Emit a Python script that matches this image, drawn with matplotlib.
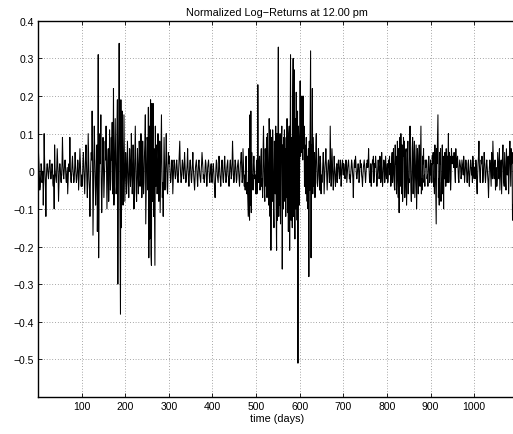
import numpy as np
import matplotlib
matplotlib.use("Agg")
import matplotlib.pyplot as plt

plt.rcParams['font.family'] = ['Liberation Sans', 'DejaVu Sans']

# log-returns in hundredths, one value per day (rows of 50 days)
r01 = [5,2,-1,-5,-4,-1,2,1,-3,-2, 0,-9,-2,10,3,-1,-4,-12,-2,1, 2,1,-1,-2,0,2,3,1,-2,-2, 0,2,1,-3,-4,-1,-10,7,1,-1, -2,-3,1,6,2,-1,-8,-3,1,2]
r02 = [1,-2,-3,-1,2,9,3,-1,-2,0, 2,3,1,-2,-3,-1,1,-6,-2,1, 2,0,9,1,-2,-3,-1,2,4,1, -1,-3,-2,1,5,2,-1,-3,-2,0, 3,2,-5,-2,1,6,2,-1,-4,-1]
r03 = [-4,-2,3,5,1,-3,-6,-1,4,7, 2,-3,-7,-2,10,4,-2,-5,-12,-3, 2,5,3,16,4,-17,-6,3,12,5, -2,-9,-4,3,7,-16,-3,31,-23,-5, 4,10,2,15,-3,-11,-4,3,9,2]
r04 = [-7,-3,2,8,3,12,2,-10,-4,3, 6,-8,-3,11,4,-5,-2,9,3,13, -6,-2,22,-9,-3,5,14,2,-6,-4, 10,19,-30,-4,12,34,8,-12,-38,19, -15,-4,16,5,-9,-3,15,4,-8,-2]
r05 = [5,2,-6,-3,8,3,-2,-7,-2,6, 3,-4,-1,10,2,-6,-2,7,3,-10, -4,5,12,3,-5,-8,-2,6,2,-6, -3,8,4,-4,-2,10,3,-7,-3,8, 2,-6,-3,4,7,15,-14,-5,3,9]
r06 = [8,-5,17,-23,12,-18,9,19,-22,-25, 18,-8,14,18,-12,6,-10,-25,12,-4, 7,2,-6,-3,10,3,-8,-2,8,-11, -3,6,15,2,-7,-3,-12,-2,9,2, -5,-2,3,10,2,-4,-6,-1,5,2]
r07 = [4,2,-1,-3,-2,1,3,2,-6,-2, 1,3,2,-1,-2,-1,2,3,1,-2, -3,-1,2,5,8,2,-1,-3,-2,1, 3,2,-1,-2,1,5,2,-1,-3,-2, 0,2,6,1,-2,-4,-1,2,3,1]
r08 = [-2,-3,-1,2,5,1,-1,-3,-5,-2, 1,2,3,1,-2,-4,-1,2,3,1, -1,-2,-3,0,2,5,3,1,-2,-1, -3,-2,1,3,2,-1,-4,-2,1,2, 3,1,-2,-3,-1,1,2,-2,-3,-1]
r09 = [1,2,0,-3,-4,-7,-2,1,3,2, -1,-2,-3,1,4,2,-1,-2,-4,-1, 2,3,1,-2,-3,-1,2,4,1,-1, -3,-2,1,2,3,-1,-2,-4,-1,2, 3,1,-2,-1,2,8,3,-1,-3,-2]
r10 = [1,3,2,-1,-3,-2,1,2,3,0, -2,-4,-1,2,3,5,1,-3,-2,6, 2,-2,-4,-1,-5,2,4,1,-6,-3, -8,-12,6,-10,-13,15,-9,16,-11,5, -3,-1,-5,2,4,1,-2,-1,-6,-2]
r11 = [3,-6,-2,23,4,-3,2,4,-5,-2, 3,6,-4,-2,-7,5,12,2,-5,-8, 6,2,-4,9,-7,10,3,-6,-9,14, 5,-12,11,-21,-3,9,-8,11,3,-10, -15,8,2,-6,12,-9,-21,10,-13,7]
r12 = [33,-12,6,-9,10,-14,5,8,12,-26, 7,-10,9,-5,11,-8,6,-12,9,-7, 14,-11,8,-16,10,12,-21,6,31,-13, 9,-8,-15,18,30,-12,27,-6,-18,14, -10,21,6,-13,16,-51,12,8,-9,5]
r13 = [24,4,10,5,20,8,3,20,6,12, -4,7,2,-6,9,3,-8,4,-10,6, -28,8,-5,12,32,-23,7,5,22,-6, 9,3,-4,5,-7,-2,6,10,2,-3, -4,-1,6,3,-2,-5,4,2,-6,-1]
r14 = [-3,-1,2,5,1,-6,-2,1,3,6, 2,-2,-5,-1,2,3,1,-3,-2,12, 3,-4,-2,6,2,-1,-5,-2,4,1, -1,-4,-2,1,2,-3,-1,2,3,1, -2,-1,3,2,-4,-1,1,3,2,-1]
r15 = [2,1,-1,-2,1,3,2,-3,-1,1, 2,3,1,-2,-1,-3,-1,1,3,2, 0,-2,-7,-1,2,3,1,4,2,-1, -2,-1,1,2,1,-3,-2,1,3,1, 2,-1,-2,-4,-1,1,2,3,1,-1]
r16 = [-3,-1,2,1,3,1,2,6,1,-2, -3,-1,2,-4,-2,1,3,2,4,-3, -1,2,1,4,2,-1,-4,-2,1,3, 1,-2,-1,4,2,-3,-1,5,1,-4, -2,1,3,2,-3,-1,4,1,-2,-1]
r17 = [2,-3,-1,3,1,4,-1,2,-4,-2, 3,5,-3,-1,6,2,-4,-5,7,2, 4,-6,-2,8,3,-7,6,-11,9,2, -4,10,3,-6,7,-8,-3,9,4,8, -7,-3,5,6,-9,-4,3,8,-6,-2]
r18 = [-3,7,12,4,-5,-8,-2,6,9,-6, -3,5,8,-7,-2,3,7,-10,-4,6, 4,-6,-2,7,3,-4,5,12,-6,-2, -5,4,2,6,-3,-1,-4,3,1,2, 3,-2,-1,-4,2,4,1,-3,-2,3]
r19 = [-1,2,-3,4,2,5,-4,-2,-6,7, 3,-5,-14,6,2,9,15,-7,-2,-9, 5,2,6,-8,-3,-2,7,-6,4,-10, 3,-2,5,2,-4,6,3,-3,4,2, 10,-3,5,2,4,-5,-2,6,3,2]
r20 = [4,3,1,5,2,-1,-3,6,2,1, 3,4,1,-2,-3,1,3,2,1,-2, -1,3,2,1,-1,4,2,-3,-1,1, 3,2,-1,-3,-1,2,3,-2,-4,-1, 1,3,2,-1,1,-3,4,2,-1,-2]
r21 = [1,-1,-2,3,1,-4,-6,-1,2,4, 8,2,-1,-3,1,3,2,4,1,-3, -1,2,5,3,-1,-3,-1,2,3,1, -1,-3,-7,-2,1,3,2,-1,-4,5, 2,-2,8,3,-1,-2,1,3,-5,-2]
r22 = [1,-4,-2,5,3,1,-2,6,-5,-1, 2,3,-6,-1,4,7,2,-3,-4,5, 1,-2,-5,6,2,-1,1,4,-6,-2, 5,8,2,-4,6,2,5,-13,-9,-12]

rows = [r01, r02, r03, r04, r05, r06, r07, r08, r09, r10, r11,
        r12, r13, r14, r15, r16, r17, r18, r19, r20, r21, r22]
returns = np.concatenate([np.array(r, dtype=float) for r in rows]) / 100.0
days = np.arange(1, len(returns) + 1)

title = "Normalized Log\u2212Returns at 12.00 pm"
xlabel = "time (days)"
xticks = [100, 200, 300, 400, 500, 600, 700, 800, 900, 1000]
yticks = [-0.5, -0.4, -0.3, -0.2, -0.1, 0, 0.1, 0.2, 0.3, 0.4]
ytick_labels = ["\u22120.5", "\u22120.4", "\u22120.3", "\u22120.2", "\u22120.1", "0", "0.1", "0.2", "0.3", "0.4"]

fig = plt.figure(figsize=(5.13, 4.35), dpi=100)
ax = fig.add_axes([0.075, 0.085, 0.93, 0.865])
ax.plot(days, returns, color='black', linewidth=0.75)
ax.set_xlim(1, 1095)
ax.set_ylim(-0.6, 0.4)
ax.set_xticks(xticks)
ax.set_yticks(yticks)
ax.set_yticklabels(ytick_labels)
ax.tick_params(direction='in', labelsize=7.5, length=3, width=0.6, top=True, right=True, pad=3)
ax.grid(True, color='#555555', linestyle=(0, (1, 3)), linewidth=0.5)
for s in ax.spines.values():
    s.set_linewidth(1.0)
ax.set_title(title, fontsize=7.8, pad=4)
ax.set_xlabel(xlabel, fontsize=7.8, labelpad=1)
fig.savefig("out.png", dpi=100)
